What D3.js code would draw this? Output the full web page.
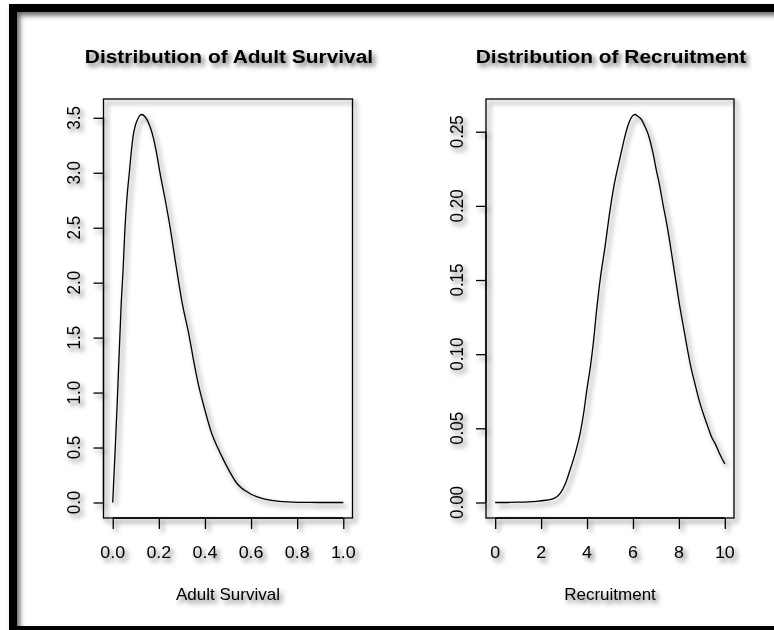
<!DOCTYPE html>
<html>
<head>
<meta charset="utf-8">
<script src="https://cdn.jsdelivr.net/npm/d3@7"></script>
<style>
  body { margin: 0; background: #fff; }
  text { font-family: "Liberation Sans", Arial, sans-serif; fill: #000; }
</style>
</head>
<body>
<script>
const w = 774;
const h = 630;

// density of adult survival
const survivalX = [0.000, 0.010, 0.020, 0.037, 0.045, 0.053, 0.062, 0.072, 0.080, 0.089, 0.098, 0.107, 0.117, 0.126,
                   0.140, 0.154, 0.165, 0.176, 0.190, 0.205, 0.228, 0.250, 0.275, 0.300, 0.332, 0.350, 0.371, 0.400,
                   0.429, 0.455, 0.480, 0.510, 0.538, 0.560, 0.581, 0.600, 0.624, 0.660, 0.697, 0.740, 0.780, 0.850,
                   0.900, 1.000];
const survivalY = [0.00, 0.45, 0.93, 1.82, 2.12, 2.49, 2.78, 3.00, 3.18, 3.34, 3.43, 3.48, 3.52, 3.53,
                   3.51, 3.46, 3.40, 3.32, 3.18, 3.00, 2.75, 2.49, 2.15, 1.83, 1.51, 1.30, 1.08, 0.84,
                   0.63, 0.50, 0.39, 0.27, 0.175, 0.13, 0.10, 0.075, 0.053, 0.030, 0.016, 0.008, 0.004, 0.001,
                   0.000, 0.000];

// density of recruitment
const recruitX = [0.0, 1.0, 1.8, 2.2, 2.46, 2.65, 2.83, 3.05, 3.26, 3.5, 3.70, 3.85, 3.99, 4.15, 4.27, 4.42, 4.57,
                  4.78, 5.00, 5.22, 5.37, 5.51, 5.62, 5.72, 5.85, 5.97, 6.09, 6.20, 6.38, 6.52, 6.67, 6.88, 7.02,
                  7.17, 7.32, 7.47, 7.61, 7.75, 7.90, 8.04, 8.18, 8.33, 8.50, 8.70, 8.88, 9.06, 9.24, 9.42, 9.60,
                  9.80, 10.0];
const recruitY = [0.000, 0.0002, 0.0008, 0.0015, 0.0022, 0.0035, 0.0062, 0.0125, 0.0219, 0.034, 0.0466, 0.060,
                  0.0758, 0.092, 0.107, 0.130, 0.150, 0.172, 0.197, 0.2173, 0.228, 0.2375, 0.245, 0.251, 0.257,
                  0.2605, 0.2616, 0.2605, 0.258, 0.2535, 0.248, 0.235, 0.224, 0.213, 0.200, 0.188, 0.175, 0.161,
                  0.146, 0.132, 0.120, 0.107, 0.093, 0.080, 0.069, 0.060, 0.052, 0.0443, 0.039, 0.032, 0.026];

const titles = ["Distribution of Adult Survival", "Distribution of Recruitment"];
const xLabels = ["Adult Survival", "Recruitment"];
const survivalXTicks = [0, 0.2, 0.4, 0.6, 0.8, 1.0];
const survivalYTicks = [0, 0.5, 1.0, 1.5, 2.0, 2.5, 3.0, 3.5];
const recruitXTicks = [0, 2, 4, 6, 8, 10];
const recruitYTicks = [0, 0.05, 0.10, 0.15, 0.20, 0.25];

const svg = d3.select("body")
              .append("svg")
              .attr("width", w)
              .attr("height", h);

// soft drop shadow used on everything
const defs = svg.append("defs");
const f = defs.append("filter").attr("id", "shadow")
              .attr("x", "-20%").attr("y", "-20%").attr("width", "140%").attr("height", "140%");
f.append("feDropShadow")
 .attr("dx", 3).attr("dy", 3.5).attr("stdDeviation", 2.4)
 .attr("flood-color", "#000").attr("flood-opacity", 0.6);

const root = svg.append("g").attr("filter", "url(#shadow)");

// black frame
root.append("rect")
    .attr("x", 13).attr("y", 8)
    .attr("width", 790).attr("height", 622)
    .attr("fill", "none").attr("stroke", "#000").attr("stroke-width", 8);

const sx = 1.05; // text is a little wider than tall in the picture

function addText(g, x, y, str, size, opts) {
    opts = opts || {};
    const t = g.append("text")
        .attr("transform", "translate(" + x + "," + y + ") scale(" + (opts.sx || sx) + ",1)" + (opts.rot ? " rotate(-90)" : ""))
        .attr("text-anchor", "middle")
        .attr("font-size", size)
        .text(str);
    if (opts.bold) t.attr("font-weight", "bold");
    return t;
}

const panels = [
    { xs: survivalX, ys: survivalY, xDomain: [0, 1], xTicks: survivalXTicks, yTicks: survivalYTicks,
      xFmt: d3.format(".1f"), yFmt: d3.format(".1f"), left: 103.5, right: 352.5 },
    { xs: recruitX, ys: recruitY, xDomain: [0, 10], xTicks: recruitXTicks, yTicks: recruitYTicks,
      xFmt: d3.format("d"), yFmt: d3.format(".2f"), left: 486, right: 734 }
];

const plotTop = 99, plotBottom = 518;

panels.forEach(function(p, i) {
    const g = root.append("g");
    const xr = p.xDomain[1] - p.xDomain[0];
    const ymax = d3.max(p.ys);

    const xScale = d3.scaleLinear()
                     .domain([p.xDomain[0] - 0.04 * xr, p.xDomain[1] + 0.04 * xr])
                     .range([p.left, p.right]);
    const yScale = d3.scaleLinear()
                     .domain([-0.04 * ymax, 1.04 * ymax])
                     .range([plotBottom, plotTop]);

    // box
    g.append("rect")
     .attr("x", p.left).attr("y", plotTop)
     .attr("width", p.right - p.left).attr("height", plotBottom - plotTop)
     .attr("fill", "none").attr("stroke", "#000").attr("stroke-width", 1.3);

    // density curve
    const pts = p.xs.map((x, j) => [x, p.ys[j]]);
    const line = d3.line()
                   .x(d => xScale(d[0]))
                   .y(d => yScale(d[1]))
                   .curve(d3.curveMonotoneX);
    g.append("path")
     .datum(pts)
     .attr("d", line)
     .attr("fill", "none").attr("stroke", "#000").attr("stroke-width", 1.3);

    // x axis
    const xAxis = d3.axisBottom(xScale).tickValues(p.xTicks).tickSize(11).tickFormat("");
    const xg = g.append("g").attr("transform", "translate(0," + plotBottom + ")").call(xAxis);
    xg.select(".domain").attr("d", "M" + xScale(p.xTicks[0]) + ",0H" + xScale(p.xTicks[p.xTicks.length - 1]));
    xg.selectAll("line,path").attr("stroke", "#000").attr("stroke-width", 1.3);
    p.xTicks.forEach(v => addText(g, xScale(v), 557.5, p.xFmt(v), 17));

    // y axis
    const yAxis = d3.axisLeft(yScale).tickValues(p.yTicks).tickSize(10).tickFormat("");
    const yg = g.append("g").attr("transform", "translate(" + p.left + ",0)").call(yAxis);
    yg.select(".domain").attr("d", "M0," + yScale(p.yTicks[0]) + "V" + yScale(p.yTicks[p.yTicks.length - 1]));
    yg.selectAll("line,path").attr("stroke", "#000").attr("stroke-width", 1.3);
    p.yTicks.forEach(v => addText(g, p.left - 23.5, yScale(v), p.yFmt(v), 17, { rot: true, sx: 1.07 }));

    // titles
    const cx = (p.left + p.right) / 2;
    addText(g, cx + 1, 63, titles[i], 19, { bold: true, sx: 1.1 });
    addText(g, cx, 600, xLabels[i], 17, { sx: 1.0 });
});
</script>
</body>
</html>
